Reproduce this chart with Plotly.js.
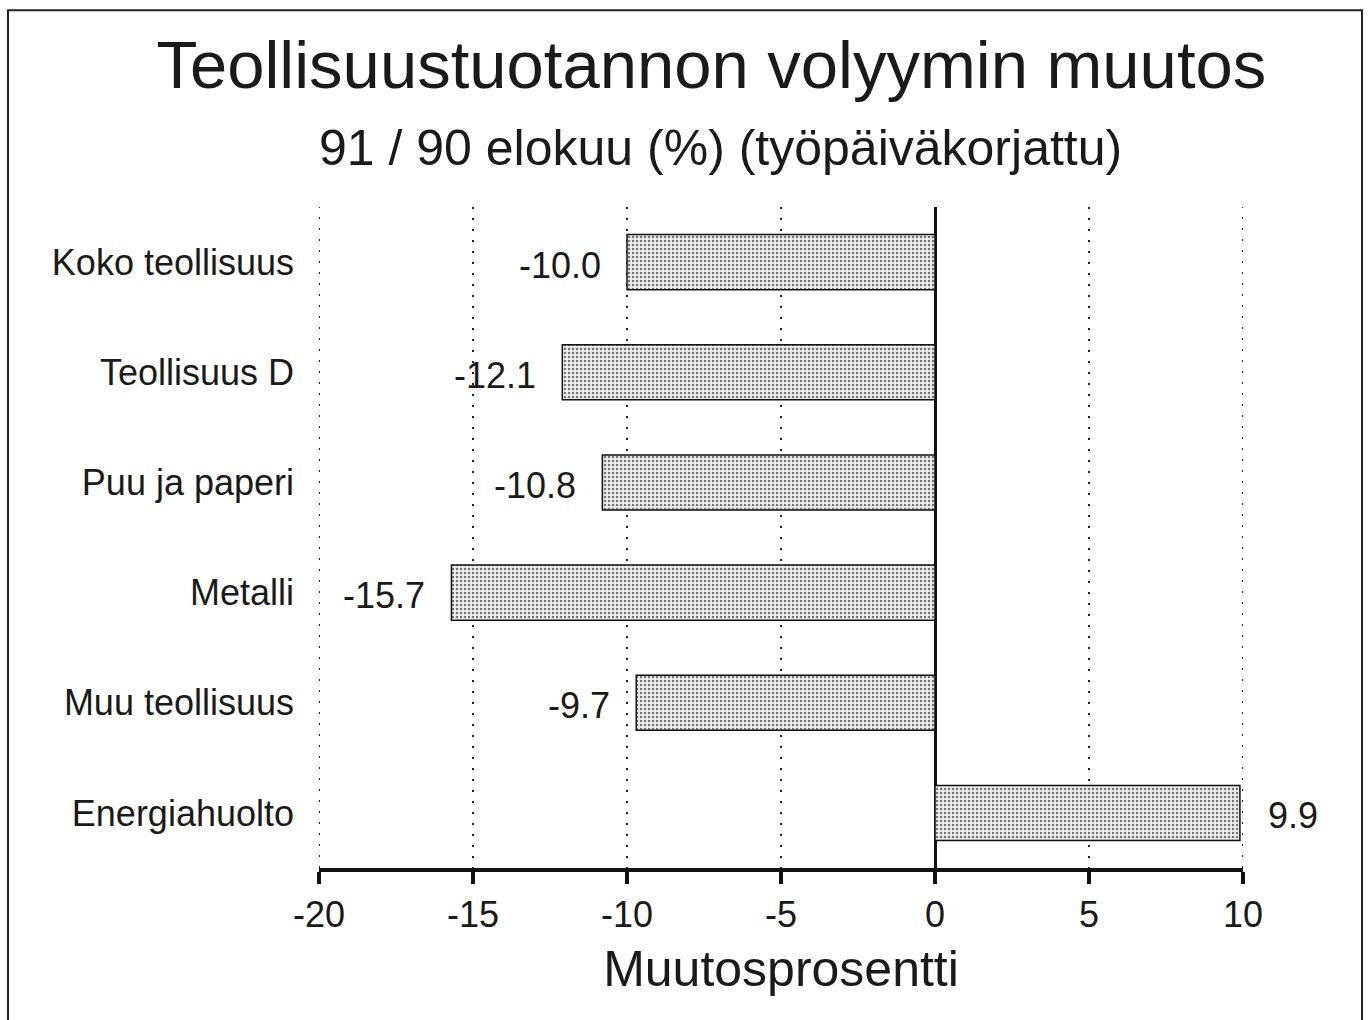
<!DOCTYPE html>
<html>
<head>
<meta charset="utf-8">
<script src="https://cdn.plot.ly/plotly-3.0.1.min.js"></script>
<style>html,body{margin:0;padding:0;background:#fff;}#chart{width:1368px;height:1020px;}</style>
</head>
<body>
<div id="chart"></div>
<script>
var categories = ["Koko teollisuus", "Teollisuus D", "Puu ja paperi", "Metalli", "Muu teollisuus", "Energiahuolto"];
var values = [-10.0, -12.1, -10.8, -15.7, -9.7, 9.9];
var valueLabels = ["-10.0", "-12.1", "-10.8", "-15.7", "-9.7", "9.9"];
var xTickVals = [-20, -15, -10, -5, 0, 5, 10];
var xTickText = ["-20", "-15", "-10", "-5", "0", "5", "10"];

var FONT = '"Liberation Sans", Arial, Helvetica, sans-serif';
var INK = '#1a1a1a';

var trace = {
  type: 'bar',
  orientation: 'h',
  y: categories,
  x: values,
  width: 0.5,
  marker: {
    color: '#e4e4e4',
    line: {color: '#111', width: 1.5},
    pattern: {shape: '.', fillmode: 'replace', bgcolor: '#eeeeee', fgcolor: '#777', size: 4, solidity: 0.3}
  },
  hoverinfo: 'skip'
};

var annotations = values.map(function (v, i) {
  return {
    x: v, y: categories[i], xref: 'x', yref: 'y',
    text: valueLabels[i], showarrow: false,
    xanchor: v < 0 ? 'right' : 'left',
    xshift: v < 0 ? -24 : 26, yshift: -3,
    font: {family: FONT, size: 36, color: INK}
  };
});
annotations.push({
  xref: 'paper', yref: 'paper', x: 0.435, y: 1.0892,
  xanchor: 'center', yanchor: 'middle', showarrow: false,
  text: '91 / 90 elokuu (%) (työpäiväkorjattu)',
  font: {family: FONT, size: 50, color: INK}
});

// dotted gridlines at the two range ends (Plotly omits edge gridlines)
var edgeTicks = [xTickVals[0], xTickVals[xTickVals.length - 1]];
var shapes = edgeTicks.map(function (t) {
  return {
    type: 'line', xref: 'x', yref: 'paper', x0: t, x1: t, y0: 0, y1: 1,
    line: {color: '#222', width: 2, dash: '2px,9px'}, layer: 'below'
  };
});
shapes.push({
  type: 'path', xref: 'paper', yref: 'paper',
  path: 'M -0.3366,-0.3 L -0.3366,1.2978 L 1.1288,1.2978 L 1.1288,-0.3',
  line: {color: '#222', width: 2}
});

var layout = {
  width: 1368, height: 1020,
  paper_bgcolor: '#fff', plot_bgcolor: '#fff',
  margin: {l: 319, r: 125, t: 207, b: 152},
  showlegend: false,
  font: {family: FONT, color: INK},
  title: {
    text: 'Teollisuustuotannon volyymin muutos',
    font: {family: FONT, size: 67, color: INK},
    xref: 'container', yref: 'container',
    x: 0.52, xanchor: 'center', y: 0.937, yanchor: 'middle'
  },
  xaxis: {
    range: [-20, 10],
    tickvals: xTickVals, ticktext: xTickText,
    showline: true, linecolor: '#111', linewidth: 4,
    ticks: 'outside', ticklen: 12, tickwidth: 4, tickcolor: '#111',
    tickfont: {family: FONT, size: 36, color: INK},
    showgrid: true, gridcolor: '#222', gridwidth: 2, griddash: '2px,9px',
    zeroline: true, zerolinecolor: '#111', zerolinewidth: 3,
    title: {text: 'Muutosprosentti', font: {family: FONT, size: 50, color: INK}, standoff: 18},
    fixedrange: true
  },
  yaxis: {
    autorange: 'reversed',
    type: 'category',
    showgrid: false, zeroline: false, showline: false, ticks: '',
    tickfont: {family: FONT, size: 36, color: INK},
    ticklabelstandoff: 24,
    fixedrange: true
  },
  annotations: annotations,
  shapes: shapes
};

Plotly.newPlot('chart', [trace], layout, {displayModeBar: false, staticPlot: true});
</script>
</body>
</html>
